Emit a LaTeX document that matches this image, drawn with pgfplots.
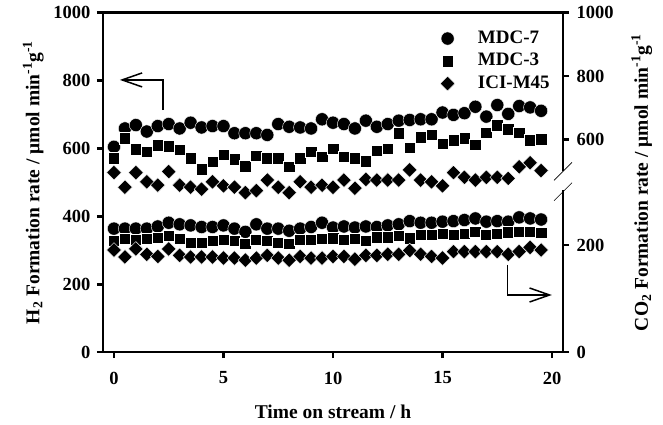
\documentclass[border=0pt]{standalone}
\usepackage{fontspec}
\setmainfont{Liberation Serif}
\usepackage{pgfplots}
\usepackage{pgfplotstable}
\pgfplotsset{compat=1.18}
\usetikzlibrary{arrows.meta}

\pgfplotstableread{
t h2 co2
0.0 605 231
0.5 659 231
1.0 669 231
1.5 650 231
2.0 666 235
2.5 672 242
3.0 659 239
3.5 676 237
4.0 662 234
4.5 666 234
5.0 666 237
5.5 645 231
6.0 645 225
6.5 645 239
7.0 640 231
7.5 672 231
8.0 664 227
8.5 662 231
9.0 659 234
9.5 686 242
10.0 676 233
10.5 672 235
11.0 659 233
11.5 682 235
12.0 664 234
12.5 672 237
13.0 682 239
13.5 684 245
14.0 686 242
14.5 686 242
15.0 706 244
15.5 699 245
16.0 704 247
16.5 723 250
17.0 694 244
17.5 728 245
18.0 702 244
18.5 725 252
19.0 721 250
19.5 711 248
}\mdcseven

\pgfplotstableread{
t h2 co2
0.0 571 208
0.5 630 212
1.0 598 210
1.5 591 212
2.0 610 214
2.5 607 218
3.0 596 212
3.5 571 205
4.0 539 205
4.5 561 208
5.0 581 210
5.5 568 208
6.0 548 203
6.5 578 210
7.0 571 208
7.5 571 205
8.0 546 203
8.5 571 210
9.0 591 210
9.5 576 212
10.0 600 213
10.5 576 210
11.0 571 212
11.5 563 208
12.0 594 215
12.5 600 215
13.0 645 218
13.5 603 213
14.0 633 220
14.5 640 220
15.0 615 222
15.5 625 220
16.0 630 222
16.5 612 225
17.0 647 220
17.5 669 222
18.0 657 224
18.5 647 225
19.0 625 225
19.5 627 223
}\mdcthree

\pgfplotstableread{
t h2 co2
0.0 529 191
0.5 486 178
1.0 529 193
1.5 502 183
2.0 492 179
2.5 532 193
3.0 492 181
3.5 486 178
4.0 480 178
4.5 502 178
5.0 490 176
5.5 486 176
6.0 470 172
6.5 476 176
7.0 507 181
7.5 486 176
8.0 470 172
8.5 502 179
9.0 486 176
9.5 492 176
10.0 486 179
10.5 507 179
11.0 483 174
11.5 509 181
12.0 507 181
12.5 507 183
13.0 507 183
13.5 537 190
14.0 507 183
14.5 502 179
15.0 490 176
15.5 529 188
16.0 515 188
16.5 507 188
17.0 515 188
17.5 515 188
18.0 512 183
18.5 546 188
19.0 558 196
19.5 535 191
}\icim

\pgfplotsset{
  base/.style={
    at={(0,0)}, anchor=south west,
    scale only axis, width=460pt, height=339.5pt,
    xmin=-0.5, xmax=20.5, clip=false,
    tick label style={font=\fontsize{18.5}{21}\selectfont\bfseries},
    label style={font=\fontsize{19.5}{22}\selectfont\bfseries},
    /pgf/number format/assume math mode=true,
    /pgf/number format/1000 sep={},
    major tick length=6pt, tick align=outside,
    tick style={black, line width=2.5pt},
    axis line style={line width=2.5pt, line cap=rect},
  },
  m7/.style={only marks, mark=*, mark size=6.6pt, mark options={fill=black, draw=white, line width=0.4pt}},
  m3/.style={only marks, mark=square*, mark size=5.7pt, mark options={fill=black, draw=white, line width=0.4pt}},
  mi/.style={only marks, mark=square*, mark size=5.2pt, mark options={rotate=45, fill=black, draw=white, line width=0.4pt}},
}

\begin{document}
\begin{tikzpicture}
\useasboundingbox (-103pt,-72.8pt) rectangle (560pt,352.2pt);

\begin{axis}[base, ymin=0, ymax=1000,
  axis x line*=bottom, axis y line*=left,
  xtick={0,5,10,15,20}, ytick={0,200,400,600,800,1000},
  xticklabel shift=10pt, yticklabel shift=3pt,
  xlabel shift=14pt, ylabel shift=3pt,
  xlabel={Time on stream / h},
  ylabel={H\textsubscript{2} Formation rate / μmol min\textsuperscript{-1}g\textsuperscript{-1}},
  legend cell align=left,
  legend image code/.code={\draw[#1] plot coordinates {(0pt,0pt)};},
  legend style={draw=none, fill=none, at={(axis cs:14.75,962)}, anchor=north west,
    font=\fontsize{19}{21}\selectfont\bfseries, row sep=1pt,
    nodes={inner sep=2pt, text height=13.5pt, text depth=4pt},
    /tikz/every odd column/.append style={column sep=21pt}},
]
\addplot[m7] table[x=t, y=h2] {\mdcseven}; \addlegendentry{MDC-7}
\addplot[m3] table[x=t, y=h2] {\mdcthree}; \addlegendentry{MDC-3}
\addplot[mi] table[x=t, y=h2] {\icim}; \addlegendentry{ICI-M45}
\draw[line width=2.5pt, line cap=rect] (rel axis cs:0,1) -- (rel axis cs:1,1);
\draw[line width=1.5pt, -{Straight Barb[length=20pt,width=14pt]}] (axis cs:2.24,713) -- (axis cs:2.24,802) -- (axis cs:0.27,802);
\draw[line width=1.5pt, -{Straight Barb[length=20pt,width=14pt]}] (axis cs:17.96,257) -- (axis cs:17.96,168.5) -- (axis cs:19.99,168.5);
\end{axis}

\begin{axis}[base, ymin=0, ymax=634.6,
  axis x line=none, axis y line*=right,
  y axis line style={draw opacity=0},
  ytick={0,200}, yticklabel shift=4pt,
]
\addplot[m7] table[x=t, y=co2] {\mdcseven};
\addplot[m3] table[x=t, y=co2] {\mdcthree};
\addplot[mi] table[x=t, y=co2] {\icim};
\draw[line width=2.5pt, line cap=rect] (axis cs:20.5,0) -- (axis cs:20.5,300);
\draw[line width=0.6pt] ([shift={(-9pt,-9pt)}]axis cs:20.5,300) -- ([shift={(9pt,9pt)}]axis cs:20.5,300);
\end{axis}

\begin{axis}[base, ymin=-70, ymax=1000,
  axis x line=none, axis y line*=right,
  y axis line style={draw opacity=0},
  ytick={600,800,1000}, yticklabel shift=4pt, ylabel shift=11pt,
  ylabel={CO\textsubscript{2} Formation rate / μmol min\textsuperscript{-1}g\textsuperscript{-1}},
]
\draw[line width=2.5pt] (axis cs:20.5,500) -- (axis cs:20.5,1000);
\draw[line width=0.6pt] ([shift={(-9pt,-9pt)}]axis cs:20.5,500) -- ([shift={(9pt,9pt)}]axis cs:20.5,500);
\end{axis}
\end{tikzpicture}
\end{document}
